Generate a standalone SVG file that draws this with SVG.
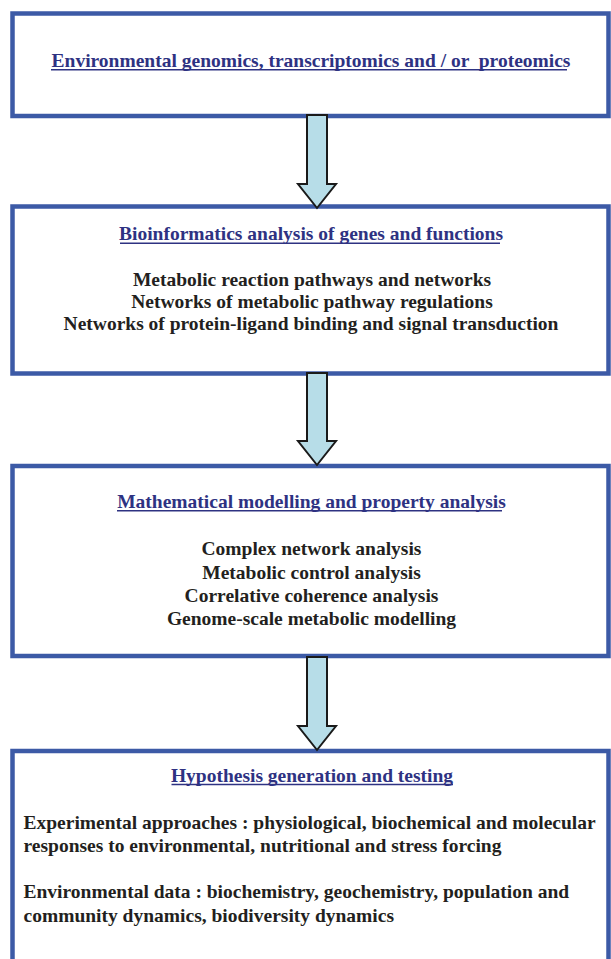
<svg xmlns="http://www.w3.org/2000/svg" width="611" height="959" viewBox="0 0 611 959">
<style>
.box{fill:#ffffff;stroke:#3c5aa6;stroke-width:4.5}
.arrow{fill:#b7dde8;stroke:#1a1a1a;stroke-width:2;stroke-linejoin:miter}
.title{font-family:"Liberation Serif","Times New Roman",serif;font-weight:bold;font-size:19.5px;fill:#2e3282;text-anchor:middle;white-space:pre}
.ul{stroke:#2e3282;stroke-width:1.6}
.body{font-family:"Liberation Serif","Times New Roman",serif;font-weight:bold;font-size:19.5px;fill:#231f20}
.c{text-anchor:middle}
</style>
<rect width="611" height="959" fill="#ffffff"/>
<g id="node1">
<rect class="box" x="12.5" y="13.5" width="596" height="102.5"/>
<text class="title" x="311" y="66.5" xml:space="preserve">Environmental genomics, transcriptomics and / or  proteomics</text>
<line class="ul" x1="51" y1="69.8" x2="567" y2="69.8"/>
</g>
<g id="node2">
<rect class="box" x="12.5" y="206.5" width="596" height="167"/>
<text class="title" x="311" y="240">Bioinformatics analysis of genes and functions</text>
<line class="ul" x1="120" y1="243.2" x2="500" y2="243.2"/>
<text class="body c" x="312" y="286">Metabolic reaction pathways and networks</text>
<text class="body c" x="312" y="308">Networks of metabolic pathway regulations</text>
<text class="body c" x="311" y="330">Networks of protein-ligand binding and signal transduction</text>
</g>
<g id="node3">
<rect class="box" x="12.5" y="466" width="596" height="190"/>
<text class="title" x="311.5" y="507.5">Mathematical modelling and property analysis</text>
<line class="ul" x1="117" y1="510.8" x2="502" y2="510.8"/>
<text class="body c" x="311.5" y="555">Complex network analysis</text>
<text class="body c" x="311.5" y="578.5">Metabolic control analysis</text>
<text class="body c" x="311.5" y="602">Correlative coherence analysis</text>
<text class="body c" x="311.5" y="625">Genome-scale metabolic modelling</text>
</g>
<g id="node4">
<rect class="box" x="12.5" y="751" width="596" height="230"/>
<text class="title" x="312" y="781.5">Hypothesis generation and testing</text>
<line class="ul" x1="171.5" y1="784.5" x2="453" y2="784.5"/>
<text class="body" x="23.5" y="829">Experimental approaches : physiological, biochemical and molecular</text>
<text class="body" x="23.5" y="851.5">responses to environmental, nutritional and stress forcing</text>
<text class="body" x="23.5" y="898">Environmental data : biochemistry, geochemistry, population and</text>
<text class="body" x="23.5" y="921.5">community dynamics, biodiversity dynamics</text>
</g>
<g id="connectors">
<path class="arrow" d="M307,115 L327,115 L327,184 L336,184 L317,208 L298,184 L307,184 Z"/>
<path class="arrow" d="M307,373 L327,373 L327,441 L336,441 L317,465 L298,441 L307,441 Z"/>
<path class="arrow" d="M307,657 L327,657 L327,726 L336,726 L317,750 L298,726 L307,726 Z"/>
</g>
</svg>
